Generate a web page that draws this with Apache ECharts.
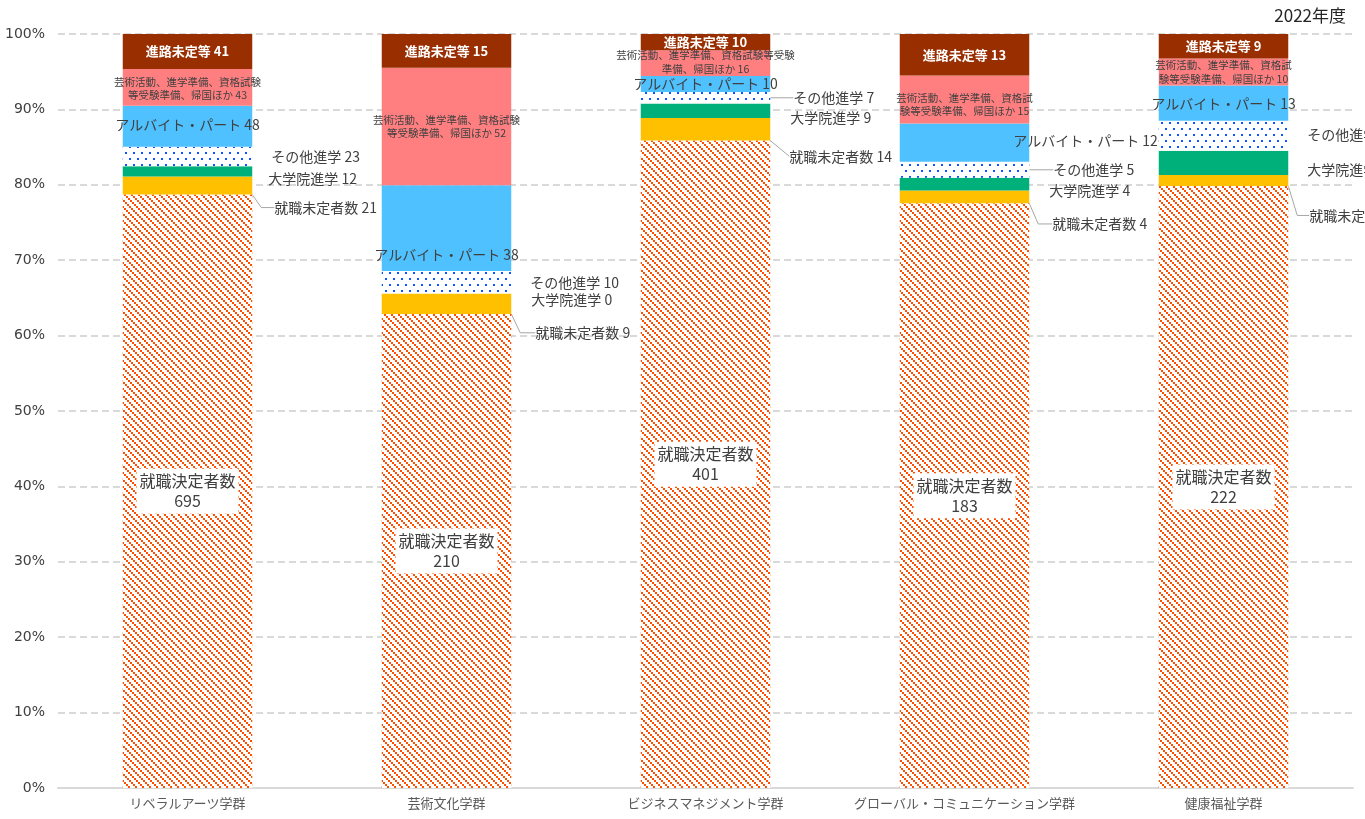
<!DOCTYPE html>
<html>
<head>
<meta charset="utf-8">
<script src="https://cdn.jsdelivr.net/npm/echarts@6/dist/echarts.min.js"></script>
<style>
  html, body { margin: 0; padding: 0; background: #fff; }
  #chart { width: 1365px; height: 819px; }
</style>
</head>
<body>
<div id="chart"></div>
<script>
const categories = ['リベラルアーツ学群', '芸術文化学群', 'ビジネスマネジメント学群', 'グローバル・コミュニケーション学群', '健康福祉学群'];

// head counts per group, bottom of the stack first
const employed = [695, 210, 401, 183, 222];
const jobless = [21, 9, 14, 4, 4];
const gradSchool = [12, 0, 9, 4, 9];
const otherStudy = [23, 10, 7, 5, 11];
const partTime = [48, 38, 10, 12, 13];
const artsEtc = [43, 52, 16, 15, 10];
const undecided = [41, 15, 10, 13, 9];

// the long category wraps differently in each bar
const artsText = [
    '芸術活動、進学準備、資格試験\n等受験準備、帰国ほか',
    '芸術活動、進学準備、資格試験\n等受験準備、帰国ほか',
    '芸術活動、進学準備、資格試験等受験\n準備、帰国ほか',
    '芸術活動、進学準備、資格試\n験等受験準備、帰国ほか',
    '芸術活動、進学準備、資格試\n験等受験準備、帰国ほか'
];

// label nudges (px), one per bar
const joblessDx = [14, 16, 11, 15, 13], joblessDy = [22, 29, 27, 27, 35];
const joblessLen = [13, 15, 0, 14, 12];
const gradDx = [8, 12, 12, 12, 11], gradDy = [7, 6, 7, 7, 7];
const otherDx = [11, 11, 15, 16, 11], otherDy = [0, 0, 0, 0, -1];
const otherLine = [false, false, true, true, false];
const partDx = [0, 0, 0, 121, 0], partDy = [-2, 27, 0, -2, 1];
const artsDy = [1, 0, -1, 5, 0];

const totals = categories.map((c, i) =>
    employed[i] + jobless[i] + gradSchool[i] + otherStudy[i] + partTime[i] + artsEtc[i] + undecided[i]);
const share = arr => arr.map((v, i) => v / totals[i] * 100);

const TXT = '#404040';
const FONT = "'Noto Sans CJK JP', sans-serif";
const leader = {color: '#A6A6A6', width: 1};

function hatch() {
    const c = document.createElement('canvas');
    c.width = 14; c.height = 14;
    const g = c.getContext('2d');
    g.fillStyle = '#fff';
    g.fillRect(0, 0, 14, 14);
    g.fillStyle = '#FF4E00';
    for (let k = 0; k < 7; k++) {
        g.fillRect(2 * k, 2 * k, 2, 2);
        g.fillRect((2 * k + 7) % 14, 2 * k, 2, 2);
        if ((2 * k + 7) % 14 === 13) g.fillRect(0, 2 * k, 1, 2);
    }
    return c;
}

function dots() {
    const c = document.createElement('canvas');
    c.width = 8; c.height = 12;
    const g = c.getContext('2d');
    g.fillStyle = '#fff';
    g.fillRect(0, 0, 8, 12);
    g.fillStyle = '#0A55FF';
    g.fillRect(1, 2, 2, 2);
    g.fillRect(5, 8, 2, 2);
    return c;
}

function centerAt(dx, dy) {
    return p => ({
        x: p.rect.x + p.rect.width / 2 + (dx ? dx[p.dataIndex] : 0),
        y: p.rect.y + p.rect.height / 2 + (dy ? dy[p.dataIndex] : 0),
        align: 'center',
        verticalAlign: 'middle'
    });
}

function besideAt(dx, dy) {
    return p => ({
        x: p.rect.x + p.rect.width + dx[p.dataIndex],
        y: p.rect.y + p.rect.height / 2 + dy[p.dataIndex],
        align: 'left',
        verticalAlign: 'middle'
    });
}

const outsideLabel = (name, counts) => ({
    show: true,
    color: TXT,
    fontFamily: FONT,
    fontSize: 14,
    padding: [0, 0, 0, 8],
    formatter: p => name + ' ' + counts[p.dataIndex]
});

const chart = echarts.init(document.getElementById('chart'));

chart.setOption({
    animation: false,
    title: {
        text: '2022年度',
        right: 14,
        top: 2,
        textStyle: {fontFamily: FONT, fontSize: 17, fontWeight: 'normal', color: '#262626'}
    },
    grid: {left: 58, right: 12, top: 34, bottom: 31},
    xAxis: {
        type: 'category',
        data: categories,
        axisLine: {lineStyle: {color: '#D9D9D9', width: 2}},
        axisTick: {show: false},
        axisLabel: {interval: 0, color: '#595959', fontFamily: FONT, fontSize: 13, margin: 9}
    },
    yAxis: {
        type: 'value',
        min: 0,
        max: 100,
        interval: 10,
        axisLabel: {formatter: '{value}%', color: TXT, fontFamily: "'DejaVu Sans', sans-serif", fontSize: 14, margin: 13},
        splitLine: {lineStyle: {color: '#D9D9D9', type: [7, 4], width: 2}}
    },
    series: [
        {
            name: '就職決定者数',
            type: 'bar',
            stack: 'all',
            barWidth: '50%',
            data: share(employed),
            itemStyle: {color: {image: hatch(), repeat: 'repeat'}},
            label: {
                show: true,
                color: TXT,
                fontFamily: FONT,
                fontSize: 16,
                lineHeight: 20,
                backgroundColor: '#fff',
                padding: [3, 3, 2, 3],
                formatter: p => '就職決定者数\n' + employed[p.dataIndex]
            },
            labelLayout: centerAt()
        },
        {
            name: '就職未定者数',
            type: 'bar',
            stack: 'all',
            data: share(jobless).map((v, i) => ({value: v, labelLine: {show: true, length2: joblessLen[i]}})),
            itemStyle: {color: '#FFC000'},
            label: outsideLabel('就職未定者数', jobless),
            labelLine: {show: false, lineStyle: leader},
            labelLayout: besideAt(joblessDx, joblessDy)
        },
        {
            name: '大学院進学',
            type: 'bar',
            stack: 'all',
            data: share(gradSchool),
            itemStyle: {color: '#00B07B'},
            label: outsideLabel('大学院進学', gradSchool),
            labelLayout: besideAt(gradDx, gradDy)
        },
        {
            name: 'その他進学',
            type: 'bar',
            stack: 'all',
            data: share(otherStudy).map((v, i) => ({value: v, labelLine: {show: otherLine[i], length2: 0}})),
            itemStyle: {color: {image: dots(), repeat: 'repeat'}},
            label: outsideLabel('その他進学', otherStudy),
            labelLine: {show: false, lineStyle: leader},
            labelLayout: besideAt(otherDx, otherDy)
        },
        {
            name: 'アルバイト・パート',
            type: 'bar',
            stack: 'all',
            data: share(partTime),
            itemStyle: {color: '#4FC1FF'},
            label: {
                show: true,
                color: TXT,
                fontFamily: FONT,
                fontSize: 14,
                formatter: p => 'アルバイト・パート ' + partTime[p.dataIndex]
            },
            labelLayout: centerAt(partDx, partDy)
        },
        {
            name: '芸術活動、進学準備、資格試験等受験準備、帰国ほか',
            type: 'bar',
            stack: 'all',
            data: share(artsEtc),
            itemStyle: {color: '#FF7F80'},
            label: {
                show: true,
                color: TXT,
                fontFamily: FONT,
                fontSize: 10.5,
                lineHeight: 13.5,
                align: 'center',
                formatter: p => artsText[p.dataIndex] + ' ' + artsEtc[p.dataIndex]
            },
            labelLayout: centerAt(null, artsDy)
        },
        {
            name: '進路未定等',
            type: 'bar',
            stack: 'all',
            data: share(undecided),
            itemStyle: {color: '#992E00'},
            label: {
                show: true,
                color: '#fff',
                fontFamily: FONT,
                fontSize: 13,
                fontWeight: 'bold',
                formatter: p => '進路未定等 ' + undecided[p.dataIndex]
            },
            labelLayout: centerAt()
        }
    ]
});
</script>
</body>
</html>
